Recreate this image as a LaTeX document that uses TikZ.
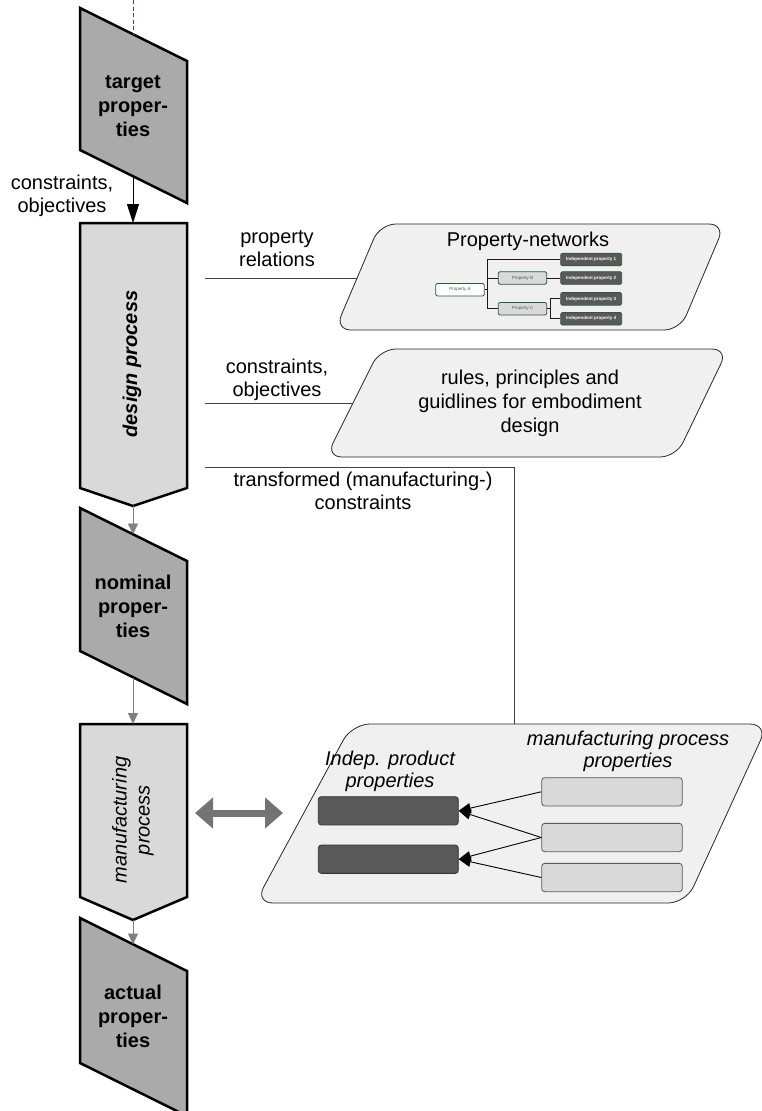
\documentclass[tikz,border=0pt]{standalone}
\usepackage{fontspec}
\setmainfont{Liberation Sans}
\usetikzlibrary{arrows.meta}

\definecolor{propgray}{HTML}{AAAAAA}
\definecolor{procgray}{HTML}{D9D9D9}
\definecolor{panelgray}{HTML}{F0F0F0}
\definecolor{darkbox}{HTML}{595959}
\definecolor{netgreen}{HTML}{2E5A3A}
\definecolor{flowgray}{HTML}{808080}
\definecolor{biggray}{HTML}{737373}

\begin{document}
\begin{tikzpicture}[x=1pt,y=-1pt,
  lbl/.style={font=\fontsize{20}{23}\selectfont, align=center, inner sep=0pt},
  proptext/.style={lbl, font=\fontsize{20}{24}\selectfont\bfseries},
  propshape/.style={draw=black, line width=2.5pt, fill=propgray, line join=miter},
  procshape/.style={draw=black, line width=2.5pt, fill=procgray, line join=miter},
  panel/.style={draw=black!85, line width=0.8pt, fill=panelgray, rounded corners=16pt},
  link/.style={draw=black!75, line width=0.9pt},
  flow/.style={draw=flowgray, line width=0.9pt, -{Triangle[length=11pt,width=10pt]}},
  mainflow/.style={draw=black, line width=1pt, -{Triangle[length=19pt,width=12pt]}},
  netnode/.style={draw=netgreen, line width=0.8pt, rounded corners=1.5pt, inner sep=0pt,
    minimum height=12.6pt, font=\fontsize{4.5}{5}\selectfont},
  propnode/.style={netnode, minimum width=48.5pt, text=netgreen!70!gray},
  indepnode/.style={netnode, minimum width=61pt, fill=darkbox, text=white,
    font=\fontsize{4.5}{5}\selectfont\bfseries},
  netlink/.style={draw=black!90, line width=0.9pt},
  prodbox/.style={draw=black!80, line width=0.8pt, fill=darkbox, rounded corners=3pt,
    minimum width=140pt, minimum height=28.3pt, inner sep=0pt},
  mfgbox/.style={draw=black!65, line width=0.8pt, fill=procgray, rounded corners=3pt,
    minimum width=140.6pt, minimum height=28.3pt, inner sep=0pt},
  infl/.style={draw=black, line width=0.9pt, -{Triangle[length=12pt,width=10pt]}}
]
\useasboundingbox (0,0) rectangle (761,1111);

% ---------- main chain on the left ----------
\draw[propshape] (80,8) -- (187,61) -- (187,203) -- (80,150) -- cycle;
\node[proptext] (target) at (133,106) {target\\proper-\\ties};
\coordinate (targetTop) at (133,34.5);
\coordinate (targetBot) at (133,176.5);
\coordinate (chainStart) at (133,0);
\draw[draw=netgreen, line width=0.8pt, dash pattern=on 4pt off 2.5pt] (chainStart) -- (targetTop);

\draw[procshape] (80,223) -- (187,223) -- (187,488) -- (133,506) -- (80,488) -- cycle;
\node[lbl, rotate=90, font=\fontsize{20}{23}\selectfont\bfseries\itshape] (design) at (132,364) {design process};
\coordinate (designTop) at (133,223);
\coordinate (designBot) at (133,506);

\draw[propshape] (80,508) -- (187,561) -- (187,704) -- (80,651) -- cycle;
\node[proptext] (nominal) at (133,606) {nominal\\proper-\\ties};
\coordinate (nominalTop) at (133,534.5);
\coordinate (nominalBot) at (133,677.5);

\draw[procshape] (80,724) -- (187,724) -- (187,897) -- (133,920) -- (80,897) -- cycle;
\node[lbl, rotate=90, font=\fontsize{20}{23}\selectfont\itshape] (mfg) at (133,820) {manufacturing\\process};
\coordinate (mfgTop) at (133,724);
\coordinate (mfgBot) at (133,920);
\coordinate (mfgRight) at (195,813);

\draw[propshape] (80,918) -- (187,971) -- (187,1116) -- (80,1063) -- cycle;
\node[proptext] (actual) at (133,1016) {actual\\proper-\\ties};
\coordinate (actualTop) at (133,944.5);

\draw[mainflow] (targetBot) -- (designTop);
\node[lbl] (inlabel) at (62,196) {constraints,\\objectives};
\draw[flow] (designBot) -- (nominalTop);
\draw[flow] (nominalBot) -- (mfgTop);
\draw[flow] (mfgBot) -- (actualTop);

% ---------- property networks ----------
\draw[panel] (380,224) -- (725,224) -- (680,330) -- (335,330) -- cycle;
\coordinate (netIn) at (357,278);
\node[lbl] (nettitle) at (528,241) {Property-networks};
\node[propnode, fill=white] (pA) at (460,289.7) {Property A};
\node[propnode, fill=procgray] (pB) at (522.5,278) {Property B};
\node[propnode, fill=procgray] (pC) at (522.5,308.7) {Property C};
\node[indepnode] (ip1) at (591.2,259.5) {Independent property 1};
\node[indepnode] (ip2) at (591.2,278) {Independent property 2};
\node[indepnode] (ip3) at (591.2,298.9) {Independent property 3};
\node[indepnode] (ip4) at (591.2,318.7) {Independent property 4};
\coordinate (busA) at (487,289.7);
\coordinate (busC) at (550,308.7);
\draw[netlink] (pA.east) -- (busA);
\draw[netlink] (busA) |- (ip1.west);
\draw[netlink] (busA) |- (pB.west);
\draw[netlink] (busA) |- (pC.west);
\draw[netlink] (pB.east) -- (ip2.west);
\draw[netlink] (pC.east) -- (busC);
\draw[netlink] (busC) |- (ip3.west);
\draw[netlink] (busC) |- (ip4.west);

% ---------- embodiment design rules ----------
\draw[panel] (380,349) -- (728,349) -- (676,457) -- (326,457) -- cycle;
\coordinate (rulesIn) at (353,403);
\node[lbl, font=\fontsize{20}{24}\selectfont] (rules) at (530,403) {rules, principles and\\guidlines for embodiment\\design};

% ---------- links from the design process ----------
\coordinate (designR1) at (205,278);
\coordinate (designR2) at (205,403);
\coordinate (designR3) at (205,467);
\coordinate (bend) at (514,467);
\coordinate (mfgPanelTop) at (514,724);
\draw[link] (designR1) -- (netIn);
\draw[link] (designR2) -- (rulesIn);
\draw[link] (designR3) -- (bend) -- (mfgPanelTop);
\node[lbl] (relLabel) at (277,249) {property\\relations};
\node[lbl] (consLabel) at (277,380) {constraints,\\objectives};
\node[lbl] (transLabel) at (363,491) {transformed (manufacturing-)\\constraints};

% ---------- manufacturing panel ----------
\draw[panel, rounded corners=18pt] (352,724) -- (768,724) -- (686,903) -- (255,903) -- cycle;
\coordinate (mfgPanelLeft) at (283,813);
\draw[draw=biggray, line width=7pt, {Triangle[length=18pt,width=30pt]}-{Triangle[length=18pt,width=30pt]}] (mfgRight) -- (mfgPanelLeft);

\node[lbl, font=\fontsize{20}{22}\selectfont\itshape] (prodTitle) at (390,771) {Indep. product\\properties};
\node[lbl, font=\fontsize{20}{22}\selectfont\itshape] (mfgTitle) at (628,751) {manufacturing process\\properties};
\node[prodbox] (d1) at (388.3,810.8) {};
\node[prodbox] (d2) at (388.3,859.2) {};
\node[mfgbox] (m1) at (612,791.8) {};
\node[mfgbox] (m2) at (612,837.5) {};
\node[mfgbox] (m3) at (612,877.5) {};
\draw[infl] (m1.west) -- (d1.east);
\draw[infl] (m2.west) -- (d1.east);
\draw[infl] (m2.west) -- (d2.east);
\draw[infl] (m3.west) -- (d2.east);
\end{tikzpicture}
\end{document}
